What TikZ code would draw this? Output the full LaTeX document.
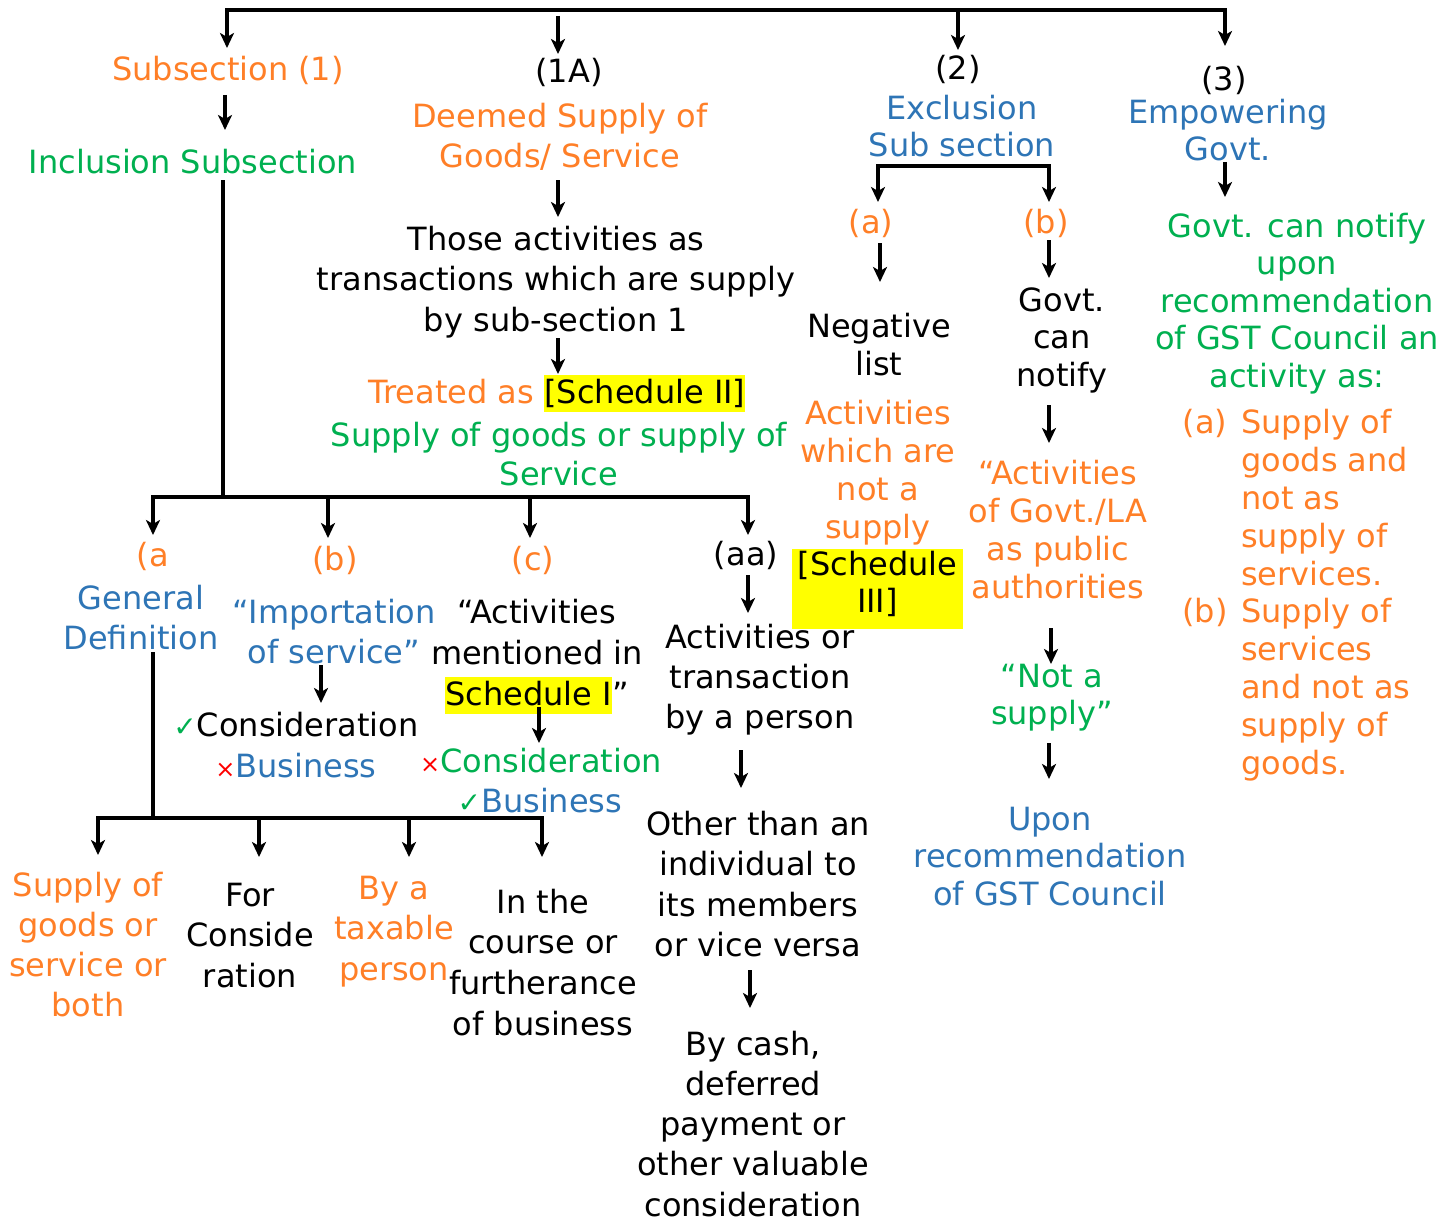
\documentclass[tikz,border=0pt]{standalone}
\usepackage{fontspec}
\setmainfont{DejaVu Sans}
\usetikzlibrary{arrows.meta}
\definecolor{orng}{RGB}{255,127,39}
\definecolor{grn}{RGB}{0,176,80}
\definecolor{blu}{RGB}{46,117,182}
\definecolor{redx}{RGB}{255,0,0}
\definecolor{hl}{RGB}{255,255,0}
% centred block of lines, first baseline is the node baseline
\newcommand\ml[2][40]{{\fontsize{32}{#1}\selectfont\begin{tabular}[t]{@{}c@{}}#2\end{tabular}}}
% left aligned block of lines
\newcommand\mll[2][38]{{\fontsize{32}{#1}\selectfont\begin{tabular}[t]{@{}l@{}}#2\end{tabular}}}
% yellow highlight
\newcommand\hlbox[1]{{\setlength\fboxsep{0pt}\colorbox{hl}{\rule[-9pt]{0pt}{37pt}#1}}}
\newcommand\okmark{{\fontsize{28}{28}\selectfont\color{grn}✓}}
\newcommand\nomark{{\fontsize{24}{24}\selectfont\color{redx}×}}
\begin{document}
\begin{tikzpicture}[x=1pt,y=-1pt,
  txt/.style={inner sep=0pt, anchor=base, font=\fontsize{32}{40}\selectfont},
  arr/.style={-{Stealth[length=15pt,width=14pt,inset=4pt]}, line width=3.2pt},
  bar/.style={line width=3.2pt}]
\fill[white] (0,0) rectangle (1454,1220);
\useasboundingbox (0,0) rectangle (1454,1220);

\begin{scope}[yshift=-2pt]
% ---------- top level ----------
\node[txt,text=orng] (sub1) at (228,79) {Subsection (1)};
\node[txt,text=grn] (incl) at (193,171) {Inclusion Subsection};
\node[txt] (oneA) at (569,81) {(1A)};
\node[txt,text=orng] (deemed) at (560,126) {\ml{Deemed Supply of\\Goods/ Service}};
\node[txt] (those) at (556,248) {\ml[40.5]{Those activities as\\transactions which are supply\\by sub-section 1}};
\node[txt] (treated) at (557,401) {\textcolor{orng}{Treated as} \hlbox{[Schedule II]}};
\node[txt,text=grn] (supplyof) at (559,444) {\ml[39]{Supply of goods or supply of\\Service}};
\node[txt] (two) at (958,78) {(2)};
\node[txt,text=blu] (excl) at (962,118) {\ml[37]{Exclusion\\Sub section}};
\node[txt] (three) at (1224,89) {(3)};
\node[txt,text=blu] (emp) at (1228,122) {\ml[37]{Empowering\\Govt.}};

% ---------- subsection (1) branches ----------
\node[txt,text=orng] (aL) at (153,564) {(a};
\node[txt,text=orng] (bL) at (335,568) {(b)};
\node[txt,text=orng] (cL) at (533,568) {(c)};
\node[txt] (aaL) at (746,563) {(aa)};
\node[txt,text=blu] (gendef) at (141,607) {\ml{General\\Definition}};
\node[txt,text=blu] (import) at (334,621) {\ml{“Importation\\of service”}};
\node[txt] (activ) at (537,621) {\ml[41]{“Activities\\mentioned in\\\hlbox{Schedule I}”}};
\node[txt] (cons1) at (296,734) {\okmark Consideration};
\node[txt] (bus1) at (296,775) {\nomark\textcolor{blu}{Business}};
\node[txt] (cons2) at (541,770) {\nomark\textcolor{grn}{Consideration}};
\node[txt] (bus2) at (540,810) {\okmark\textcolor{blu}{Business}};
\node[txt] (actor) at (760,646) {\ml{Activities or\\transaction\\by a person}};
\node[txt] (other) at (758,833) {\ml[40.5]{Other than an\\individual to\\its members\\or vice versa}};
\node[txt] (cash) at (753,1053) {\ml[40.3]{By cash,\\deferred\\payment or\\other valuable\\consideration}};

\node[txt,text=orng] (supgs) at (88,894) {\ml[40.3]{Supply of\\goods or\\service or\\both}};
\node[txt] (forcon) at (250,904) {\ml[40.5]{For\\Conside\\ration}};
\node[txt,text=orng] (bya) at (394,897) {\ml[40.5]{By a\\taxable\\person}};
\node[txt] (inthe) at (543,911) {\ml[40.7]{In the\\course or\\furtherance\\of business}};

% ---------- subsection (2) ----------
\node[txt,text=orng] (a2) at (871,231) {(a)};
\node[txt,text=orng] (b2) at (1046,231) {(b)};
\node[txt] (neg) at (879,335) {\ml[38]{Negative\\list}};
\node[txt,text=orng] (actnot) at (878,422) {\ml[38]{Activities\\which are\\not a\\supply}};
\node[fill=hl,minimum width=171pt,minimum height=80pt,inner sep=0pt] (sch3bg) at (877.5,587) {};
\node[txt] (sch3) at (877.5,573) {\ml[37]{[Schedule\\III]}};
\node[txt] (govt) at (1062,309) {\ml[37.5]{Govt.\\can\\notify}};
\node[txt,text=orng] (actgov) at (1058,482) {\ml[38]{“Activities\\of Govt./LA\\as public\\authorities}};
\node[txt,text=grn] (nota) at (1052,685) {\ml[37]{“Not a\\supply”}};
\node[txt,text=blu] (upon) at (1050,828) {\ml[37.5]{Upon\\recommendation\\of GST Council}};

% ---------- subsection (3) ----------
\node[txt,text=grn] (govnot) at (1297,235) {\ml[37.5]{Govt. can notify\\upon\\recommendation\\of GST Council an\\activity as:}};
\node[txt,text=orng] (la) at (1205,431) {(a)};
\node[txt,text=orng,anchor=base west] (latext) at (1241,431) {\mll{Supply of\\goods and\\not as\\supply of\\services.}};
\node[txt,text=orng] (lb) at (1205,620) {(b)};
\node[txt,text=orng,anchor=base west] (lbtext) at (1241,620) {\mll{Supply of\\services\\and not as\\supply of\\goods.}};
\end{scope}

% ---------- connector points ----------
\coordinate (topmid) at (700,10);
\coordinate (sub1-in) at (227,48);
\coordinate (oneA-top) at (558,16);   \coordinate (oneA-in) at (558,54);
\coordinate (two-top) at (958,12);    \coordinate (two-in) at (958,50);
\coordinate (three-in) at (1225,46);
\coordinate (sub1-out) at (225,95);   \coordinate (incl-in) at (225,130);
\coordinate (deemed-out) at (558,180); \coordinate (those-in) at (558,217);
\coordinate (those-out) at (558,338); \coordinate (treated-in) at (558,374);
\coordinate (incl-out) at (223,180);  \coordinate (incl-bar) at (223,497);
\coordinate (aL-in) at (153,535);     \coordinate (bL-in) at (328,538);
\coordinate (cL-in) at (530,538);     \coordinate (aaL-in) at (748,535);
\coordinate (import-out) at (321,665); \coordinate (cons1-in) at (321,703);
\coordinate (activ-out) at (539,707);  \coordinate (cons2-in) at (539,743);
\coordinate (aaL-out) at (748,575);    \coordinate (actor-in) at (748,613);
\coordinate (actor-out) at (741,750);  \coordinate (other-in) at (741,788);
\coordinate (other-out) at (750,970);  \coordinate (cash-in) at (750,1008);
\coordinate (gendef-out) at (153,652); \coordinate (gendef-bar) at (153,818);
\coordinate (supgs-in) at (98,855);    \coordinate (forcon-in) at (259,857);
\coordinate (bya-in) at (409,857);     \coordinate (inthe-in) at (542,857);
\coordinate (excl-bar) at (960,166);
\coordinate (a2-in) at (878,202);      \coordinate (b2-in) at (1049,202);
\coordinate (a2-out) at (880,243);     \coordinate (neg-in) at (880,282);
\coordinate (b2-out) at (1049,240);    \coordinate (govt-in) at (1049,278);
\coordinate (govt-out) at (1049,405);  \coordinate (actgov-in) at (1049,443);
\coordinate (actgov-out) at (1051,628); \coordinate (nota-in) at (1051,664);
\coordinate (nota-out) at (1049,743);  \coordinate (upon-in) at (1049,779);
\coordinate (emp-out) at (1225,162);   \coordinate (govnot-in) at (1225,197);

% ---------- connectors ----------
\draw[arr] (topmid) -| (sub1-in);
\draw[arr] (topmid) -| (three-in);
\draw[arr] (oneA-top) -- (oneA-in);
\draw[arr] (two-top) -- (two-in);
\draw[arr] (sub1-out) -- (incl-in);
\draw[arr] (deemed-out) -- (those-in);
\draw[arr] (those-out) -- (treated-in);
\draw[bar] (incl-out) -- (incl-bar);
\draw[arr] (incl-bar) -| (aL-in);
\draw[arr] (incl-bar) -| (aaL-in);
\draw[arr] (bL-in |- incl-bar) -- (bL-in);
\draw[arr] (cL-in |- incl-bar) -- (cL-in);
\draw[arr] (import-out) -- (cons1-in);
\draw[arr] (activ-out) -- (cons2-in);
\draw[arr] (aaL-out) -- (actor-in);
\draw[arr] (actor-out) -- (other-in);
\draw[arr] (other-out) -- (cash-in);
\draw[bar] (gendef-out) -- (gendef-bar);
\draw[arr] (gendef-bar) -| (supgs-in);
\draw[arr] (gendef-bar) -| (inthe-in);
\draw[arr] (forcon-in |- gendef-bar) -- (forcon-in);
\draw[arr] (bya-in |- gendef-bar) -- (bya-in);
\draw[arr] (excl-bar) -| (a2-in);
\draw[arr] (excl-bar) -| (b2-in);
\draw[arr] (a2-out) -- (neg-in);
\draw[arr] (b2-out) -- (govt-in);
\draw[arr] (govt-out) -- (actgov-in);
\draw[arr] (actgov-out) -- (nota-in);
\draw[arr] (nota-out) -- (upon-in);
\draw[arr] (emp-out) -- (govnot-in);
\end{tikzpicture}
\end{document}
